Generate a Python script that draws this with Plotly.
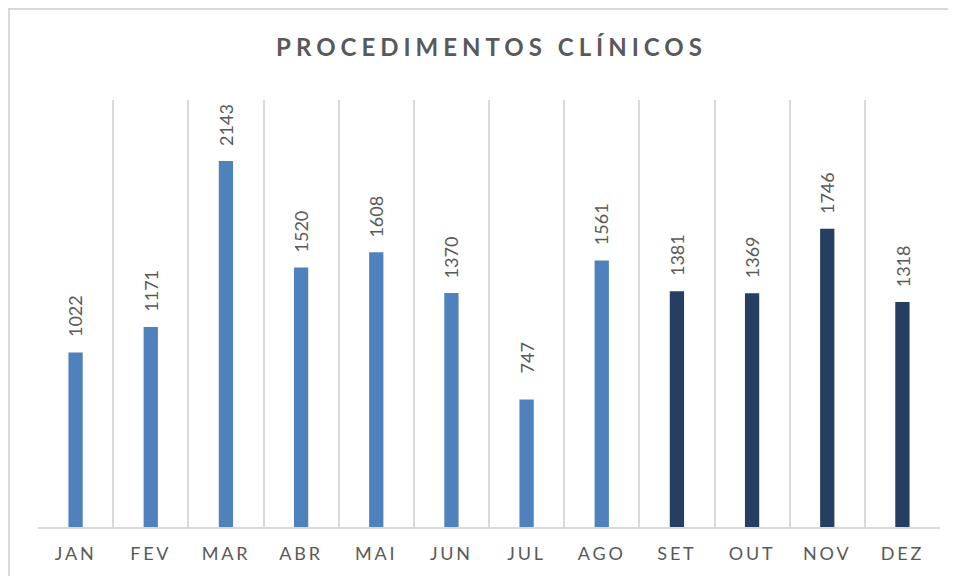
import plotly.graph_objects as go

months = ["JAN", "FEV", "MAR", "ABR", "MAI", "JUN", "JUL", "AGO", "SET", "OUT", "NOV", "DEZ"]
values = [1022, 1171, 2143, 1520, 1608, 1370, 747, 1561, 1381, 1369, 1746, 1318]
title_text = "PROCEDIMENTOS CLÍNICOS"

LIGHT = "#4F81BD"
DARK = "#243F61"
TXT = "#595959"
GRID = "#D9D9D9"

colors = [LIGHT if i < 8 else DARK for i in range(len(months))]
tick_text = ['<span style="letter-spacing:2.8px">%s</span>' % m for m in months]

fig = go.Figure(go.Bar(
    x=months, y=values, marker=dict(color=colors, line=dict(width=0)),
    width=0.19, hoverinfo="x+y",
))

for m, v in zip(months, values):
    fig.add_annotation(
        x=m, y=v, text=str(v), textangle=-90, showarrow=False,
        xanchor="center", yanchor="top", yshift=59,
        font=dict(family="Lato", size=18, color=TXT),
    )

fig.add_shape(type="rect", xref="paper", yref="paper",
              x0=-0.0322, x1=1.03, y0=-0.2, y1=1.2131,
              line=dict(color=GRID, width=2), fillcolor="rgba(0,0,0,0)", layer="below")

fig.update_layout(
    width=948, height=568,
    margin=dict(l=30, r=16, t=92, b=49),
    paper_bgcolor="white", plot_bgcolor="white",
    title=dict(text='<span style="letter-spacing:5px">%s</span>' % title_text,
               x=(489 - 8 + 2.5) / 948, xanchor="center",
               y=1 - 40 / 568, yanchor="middle",
               font=dict(family="Lato", size=24, color=TXT, weight="bold")),
    xaxis=dict(
        type="category", tickmode="array", tickvals=months, ticktext=tick_text,
        tickson="boundaries", showgrid=True, gridcolor=GRID, gridwidth=2,
        showline=True, linecolor=GRID, linewidth=2, ticks="", ticklen=0,
        ticklabelstandoff=9,
        tickfont=dict(family="Lato", size=18, color=TXT),
        range=[-0.5, 11.5], zeroline=False,
    ),
    yaxis=dict(range=[0, 2500], visible=False, showgrid=False, zeroline=False),
    showlegend=False,
)

fig.write_html("out.html")
